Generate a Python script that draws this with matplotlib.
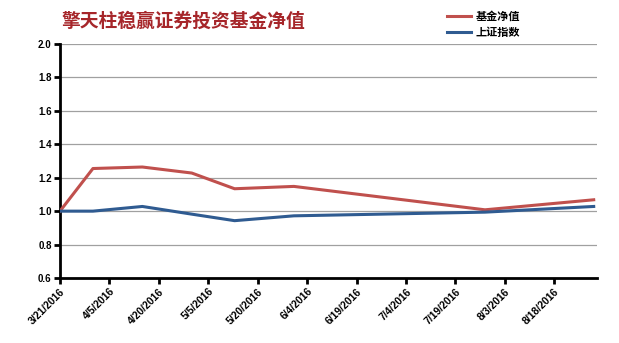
import matplotlib
matplotlib.use("Agg")
import matplotlib.pyplot as plt
import numpy as np
import pandas as pd

plt.rcParams['font.family'] = ['Noto Sans CJK SC', 'DejaVu Sans']

# data
dates = pd.to_datetime(['2016-03-21', '2016-03-31', '2016-04-15', '2016-04-30',
                        '2016-05-13', '2016-05-31', '2016-07-28', '2016-08-30'])
fund_nav = [1.0, 1.255, 1.264, 1.228, 1.134, 1.148, 1.008, 1.068]
sh_index = [1.0, 1.0, 1.028, 0.982, 0.943, 0.972, 0.994, 1.028]

tick_dates = pd.date_range('2016-03-21', periods=11, freq='15D')
tick_labels = [f"{d.month}/{d.day}/{d.year}" for d in tick_dates]
yticks = [0.6, 0.8, 1.0, 1.2, 1.4, 1.6, 1.8, 2.0]

red = '#C0504D'
blue = '#2F5B91'

fig = plt.figure(figsize=(6.19, 3.43), dpi=100)
ax = fig.add_axes([60 / 619, 1 - 278 / 343, 537 / 619, 234 / 343])

ax.plot(dates, fund_nav, color=red, lw=2.2, label='基金净值', zorder=3)
ax.plot(dates, sh_index, color=blue, lw=2.2, label='上证指数', zorder=3)

ax.set_ylim(0.6, 2.0)
ax.set_xlim(pd.Timestamp('2016-03-21'), pd.Timestamp('2016-08-31'))
ax.set_yticks(yticks)
ax.set_yticklabels([f"{v:.1f}" for v in yticks], fontsize=7, fontweight='bold',
                   family='Liberation Sans')
ax.set_xticks(tick_dates)
ax.set_xticklabels(tick_labels, rotation=45, ha='right', rotation_mode='anchor',
                   fontsize=7.5, fontweight='bold', family='Liberation Sans')

ax.grid(axis='y', color='#A0A0A0', lw=0.9)
ax.set_axisbelow(True)
for s in ['top', 'right']:
    ax.spines[s].set_visible(False)
ax.spines['left'].set_linewidth(2)
ax.spines['bottom'].set_linewidth(2)
ax.tick_params(axis='both', direction='out', length=4, width=2, pad=2)

fig.text(62 / 619, 1 - 21 / 343, '擎天柱稳赢证券投资基金净值', fontsize=13.5,
         fontweight='bold', color='#A6262A', va='center', ha='left')

fig.legend(loc='upper left', bbox_to_anchor=(437 / 619, 1.0), frameon=False,
           handlelength=2.2, handletextpad=0.4, labelspacing=0.25,
           prop={'weight': 'bold', 'size': 8})

fig.savefig('out.png', dpi=100)
